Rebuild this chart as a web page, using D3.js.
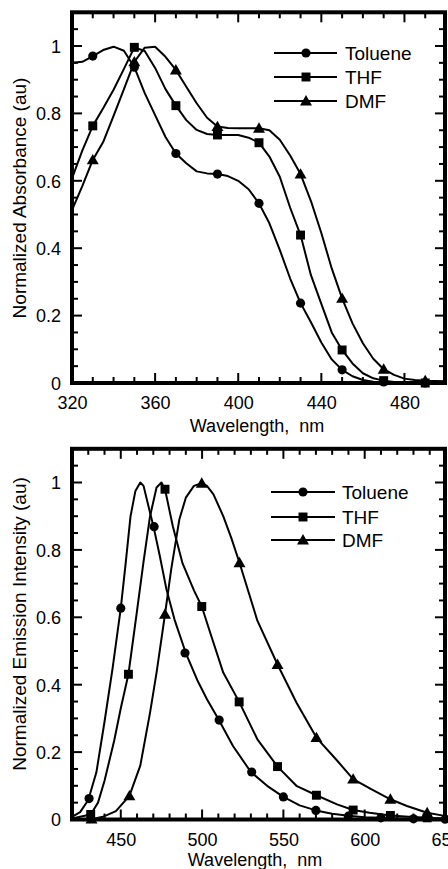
<!DOCTYPE html>
<html><head><meta charset="utf-8">
<script src="https://cdn.jsdelivr.net/npm/d3@7"></script>
<style>
html,body{margin:0;padding:0;background:#fff;}
svg{display:block;}
text{font-family:"Liberation Sans",Arial,Helvetica,sans-serif;fill:#000;}
</style></head>
<body>
<svg id="chart" width="448" height="869"></svg>
<script>
// ---------- Absorbance (top panel) ----------
const absWavelengths = [320,325,330,335,340,345,350,355,360,365,370,375,380,385,390,395,400,405,410,415,420,425,430,435,440,445,450,455,460,465,470,475,480,485,490,495,500];
const absToluene = [0.950,0.953,0.970,0.988,0.998,0.986,0.937,0.860,0.795,0.730,0.681,0.652,0.628,0.622,0.620,0.614,0.600,0.575,0.533,0.474,0.395,0.310,0.237,0.180,0.120,0.070,0.039,0.020,0.009,0.004,0.003,0.001,0,0,0,0,0];
const absTHF     = [0.607,0.690,0.763,0.815,0.870,0.932,0.996,0.985,0.935,0.872,0.823,0.780,0.751,0.739,0.736,0.736,0.736,0.728,0.713,0.672,0.612,0.520,0.439,0.320,0.235,0.150,0.098,0.058,0.029,0.014,0.007,0.003,0.001,0,0,0,0];
const absDMF     = [0.513,0.585,0.662,0.715,0.793,0.872,0.953,0.995,0.998,0.968,0.929,0.879,0.830,0.787,0.761,0.757,0.756,0.756,0.756,0.750,0.722,0.675,0.620,0.540,0.445,0.340,0.251,0.177,0.118,0.072,0.041,0.024,0.013,0.009,0.007,0.006,0.005];
const absMarkerWl = [330,350,370,390,410,430,450,470,490];
const absMarkToluene = [0.970,0.937,0.681,0.620,0.533,0.237,0.039,0.003,0];
const absMarkTHF     = [0.763,0.996,0.823,0.736,0.713,0.439,0.098,0.007,0];
const absMarkDMF     = [0.662,0.953,0.929,0.761,0.756,0.620,0.251,0.041,0.007];
const absXTicks = [320,360,400,440,480];

// ---------- Emission (bottom panel) ----------
const emTolueneWl = [420,425,430,435,440,445,450,453,456,459,462,464,467,470,474,478,483,490,497,503,510,519,530,540,550,560,570,580,590,600,610,620,630,640,650];
const emToluene   = [0.008,0.022,0.058,0.140,0.290,0.450,0.627,0.760,0.900,0.975,1.000,0.990,0.930,0.872,0.782,0.685,0.594,0.494,0.414,0.357,0.298,0.218,0.141,0.100,0.067,0.042,0.027,0.017,0.011,0.007,0.005,0.003,0.002,0.001,0.001];
const emTHFWl = [420,425,431.5,436,440,446,450,454.7,460,464,468,472,475,477.2,482,488,495,499.8,505,513,522.8,534,546.4,558,570.3,583,592.9,603,615.8,627,638.4,650];
const emTHF   = [0.003,0.008,0.015,0.050,0.115,0.235,0.330,0.431,0.620,0.765,0.900,0.985,1.000,0.980,0.870,0.760,0.680,0.632,0.554,0.436,0.349,0.238,0.157,0.100,0.072,0.045,0.028,0.020,0.012,0.008,0.005,0.003];
const emDMFWl = [420,432,439,447,455.3,462,468,472,477.2,481,486,490,495,499.8,503,507,513,518,523,534,546.4,558,570.3,583,592.9,604,615.8,626,638.4,650];
const emDMF   = [0.000,0.001,0.008,0.025,0.070,0.160,0.317,0.436,0.609,0.742,0.890,0.955,0.990,0.998,0.990,0.965,0.900,0.835,0.762,0.590,0.460,0.347,0.243,0.175,0.120,0.090,0.060,0.040,0.020,0.010];
const emMarkTolueneWl = [430.5,450,470.5,489.5,510.5,530.5,550,570,590,610,630,649.5];
const emMarkToluene   = [0.062,0.627,0.869,0.494,0.295,0.141,0.067,0.027,0.010,0.005,0.002,0.001];
const emMarkTHFWl = [431.5,454.7,477.2,499.8,522.8,546.4,570.3,592.9,615.8,638.4];
const emMarkTHF   = [0.015,0.431,0.980,0.632,0.349,0.157,0.072,0.028,0.012,0.005];
const emMarkDMFWl = [432,455.3,477.2,499.8,523,546.4,570.3,592.9,615.8,638.4];
const emMarkDMF   = [0.001,0.070,0.609,0.998,0.762,0.460,0.243,0.120,0.060,0.020];
const emXTicks = [450,500,550,600,650];

const yTicks = [0,0.2,0.4,0.6,0.8,1];
const seriesNames = ["Toluene","THF","DMF"];
const symbols = [d3.symbolCircle, d3.symbolSquare, d3.symbolTriangle];
const symbolSizes = [66, 80, 62];

const svg = d3.select("#chart");

function panel(cfg){
  const g = svg.append("g");
  const x = d3.scaleLinear().domain(cfg.xDomain).range([72, cfg.xRight]);
  const y = d3.scaleLinear().domain([0, 1.1]).range([cfg.yBottom, cfg.yBottom - 370.7]);
  const [x0,x1] = [72, cfg.xRight - 1];
  const [y0,y1] = [y(1.1), cfg.yBottom];

  // minor/major ticks (inward on all four sides)
  const xMinor = d3.range(cfg.xDomain[0], cfg.xDomain[1] + 0.01, 10);
  const yMinor = d3.range(0, 1.1001, 0.05);
  const tickG = g.append("g").attr("stroke","#000").attr("stroke-width",2);
  xMinor.forEach(v=>{
    const major = cfg.xTicks.includes(v) || v===cfg.xDomain[0];
    const len = major ? 10 : 6;
    const px = x(v);
    if (px > x1 - 2) return;
    tickG.append("line").attr("x1",px).attr("x2",px).attr("y1",y1).attr("y2",y1-len);
    tickG.append("line").attr("x1",px).attr("x2",px).attr("y1",y0).attr("y2",y0+len);
  });
  yMinor.forEach(v=>{
    const major = yTicks.some(t=>Math.abs(t-v)<1e-6);
    const len = major ? 10 : 6;
    const py = y(v);
    if (py < y0 + 2 || py > y1 - 2) return;
    tickG.append("line").attr("x1",x0).attr("x2",x0+len).attr("y1",py).attr("y2",py);
    tickG.append("line").attr("x1",x1).attr("x2",x1-len).attr("y1",py).attr("y2",py);
  });

  // frame
  g.append("rect").attr("x",x0).attr("y",y0).attr("width",x1-x0).attr("height",y1-y0)
    .attr("fill","none").attr("stroke","#000").attr("stroke-width",4);

  // tick labels
  const xl = d3.axisBottom(x).tickValues(cfg.xTicks).tickSize(0).tickFormat(d3.format("d"));
  const xa = g.append("g").attr("transform",`translate(0,${y1})`).call(xl);
  xa.select(".domain").remove();
  xa.selectAll("text").attr("y", cfg.xLabelY - y1).attr("dy",null)
    .style("font-size","18px").style("font-family","'Liberation Sans',Arial,sans-serif");
  const yl = d3.axisLeft(y).tickValues(yTicks).tickSize(0).tickFormat(d=> d===0?"0":d===1?"1":d3.format(".1f")(d));
  const ya = g.append("g").attr("transform",`translate(${x0},0)`).call(yl);
  ya.select(".domain").remove();
  ya.selectAll("text").attr("x",-11).attr("dy","0.35em")
    .style("font-size","18px").style("font-family","'Liberation Sans',Arial,sans-serif");

  // axis titles
  g.append("text").attr("x",cfg.xTitleX).attr("y",cfg.xTitleY).attr("text-anchor","middle")
    .style("font-size","18px").text("Wavelength,  nm").attr("xml:space","preserve").style("white-space","pre");
  g.append("text").attr("transform",`translate(26,${cfg.yTitleCenter}) rotate(-90)`)
    .attr("text-anchor","middle").style("font-size","19px").text(cfg.yTitle);

  // curves
  const line = d3.line().x(d=>x(d[0])).y(d=>y(d[1]));
  cfg.series.forEach((s,i)=>{
    const pts = s.wl.map((w,k)=>[w, s.v[k]]);
    g.append("path").datum(pts).attr("d",line).attr("fill","none")
      .attr("stroke","#000").attr("stroke-width",2).attr("stroke-linejoin","round");
    const mk = s.mwl.map((w,k)=>[w, s.mv[k]]);
    g.selectAll(null).data(mk).enter().append("path")
      .attr("d", d3.symbol().type(symbols[i]).size(symbolSizes[i]))
      .attr("transform", d=>`translate(${x(d[0])},${y(d[1]) + (i===2?1:0)})`)
      .attr("fill","#000");
  });

  // legend
  seriesNames.forEach((name,i)=>{
    const ly = cfg.legendY[i];
    g.append("line").attr("x1",cfg.legendX[0]).attr("x2",cfg.legendX[2]).attr("y1",ly).attr("y2",ly)
      .attr("stroke","#000").attr("stroke-width",2);
    g.append("path").attr("d", d3.symbol().type(symbols[i]).size(symbolSizes[i]))
      .attr("transform",`translate(${cfg.legendX[1]},${ly + (i===2?1:0)})`).attr("fill","#000");
    g.append("text").attr("x",cfg.legendX[3]).attr("y",ly).attr("dy","0.35em")
      .style("font-size","19px").text(name);
  });
}

panel({
  xDomain:[320,500], xRight:446, yBottom:383, xTicks:absXTicks,
  xLabelY:408.5, xTitleX:257, xTitleY:432, yTitle:"Normalized Absorbance (au)", yTitleCenter:198,
  legendX:[274,306,337,345], legendY:[53,77,101],
  series:[
    {wl:absWavelengths, v:absToluene, mwl:absMarkerWl, mv:absMarkToluene},
    {wl:absWavelengths, v:absTHF, mwl:absMarkerWl, mv:absMarkTHF},
    {wl:absWavelengths, v:absDMF, mwl:absMarkerWl, mv:absMarkDMF}
  ]
});
panel({
  xDomain:[420,650], xRight:446, yBottom:819.5, xTicks:emXTicks,
  xLabelY:846, xTitleX:255, xTitleY:866, yTitle:"Normalized Emission Intensity (au)", yTitleCenter:624,
  legendX:[271,303,335,342], legendY:[492,517,540],
  series:[
    {wl:emTolueneWl, v:emToluene, mwl:emMarkTolueneWl, mv:emMarkToluene},
    {wl:emTHFWl, v:emTHF, mwl:emMarkTHFWl, mv:emMarkTHF},
    {wl:emDMFWl, v:emDMF, mwl:emMarkDMFWl, mv:emMarkDMF}
  ]
});
</script>
</body></html>
